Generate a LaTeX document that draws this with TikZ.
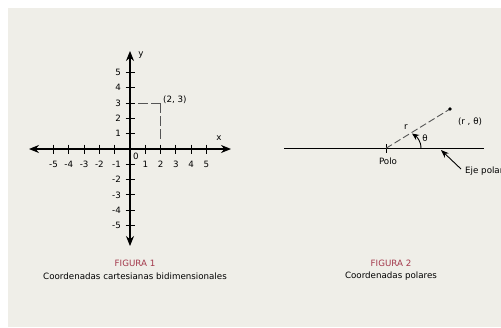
\documentclass[tikz,border=0pt]{standalone}
\usepackage{fontspec}
\setmainfont{DejaVu Sans}
\usetikzlibrary{arrows.meta}
\definecolor{bg}{HTML}{EFEEE8}
\definecolor{capred}{HTML}{A3384B}
\definecolor{dashgray}{HTML}{555555}
\tikzset{
  axisline/.style={line width=1.1pt, black},
  tickline/.style={line width=0.9pt, black},
  dashln/.style={line width=1pt, dashgray, dash pattern=on 10pt off 3pt},
  poldash/.style={line width=0.9pt, dashgray, dash pattern=on 7pt off 3pt},
  lbl/.style={inner sep=0pt, font=\fontsize{8.7}{10}\selectfont},
  captitle/.style={inner sep=0pt, text=capred, font=\fontsize{8.7}{10}\selectfont},
  captext/.style={inner sep=0pt, font=\fontsize{8.7}{10}\selectfont},
}
\begin{document}
\begin{tikzpicture}[x=1pt,y=-1pt]
\useasboundingbox (0,0) rectangle (501,327);
\fill[white] (0,0) rectangle (501,327);
\fill[bg] (8,8) rectangle (501,327);
% ---------- Figure 1 ----------
\coordinate (O) at (130,149);
\coordinate (xl) at (29,149);
\coordinate (xr) at (231,149);
\coordinate (yt) at (130,51);
\coordinate (yb) at (130,246);
\draw[axisline, {Stealth[length=10pt,width=8pt]}-{Stealth[length=10pt,width=8pt]}] (xl) -- (xr);
\draw[axisline, {Stealth[length=10pt,width=8pt]}-{Stealth[length=10pt,width=8pt]}] (yt) -- (yb);
\foreach \i in {-5,-4,-3,-2,-1,1,2,3,4,5}{
  \draw[tickline] (130+\i*15.3,144.5) -- (130+\i*15.3,153.5);
  \draw[tickline] (125.5,149-\i*15.3) -- (134.5,149-\i*15.3);
}
\foreach \i in {-5,-4,-3,-2,1,2,3,4,5}{
  \node[lbl] (xn\i) at (130+\i*15.3,164) {\i};
}
\foreach \i in {-5,-4,-3,-2,-1,1,2,3,4,5}{
  \node[lbl, anchor=east] (yn\i) at (121,149-\i*15.3) {\i};
}
\node[lbl] (zero) at (136,156) {0};
\node[lbl] (xlab) at (219,138) {x};
\node[lbl] (ylab) at (141,55) {y};
\coordinate (P) at (160.6,103.1);
\coordinate (Ph) at (136,103.1);
\coordinate (Pv) at (160.6,141);
\draw[dashln] (P) -- (Ph);
\draw[dashln] (P) -- (Pv);
\node[lbl, anchor=west] (plab) at (163,100) {(2, 3)};
\node[captitle] (fig1) at (135,263) {FIGURA 1};
\node[captext] (cap1) at (135,276) {Coordenadas cartesianas bidimensionales};
% ---------- Figure 2 ----------
\coordinate (pole) at (386,148.3);
\coordinate (axl) at (284,148.3);
\coordinate (axr) at (484,148.3);
\draw[line width=1pt] (axl) -- (axr);
\draw[tickline] (386,144) -- (386,152.5);
\coordinate (Q) at (450,109);
\draw[poldash] (pole) -- (Q);
\fill (Q) circle (1.8pt);
\coordinate (arcstart) at (421,148.3);
\coordinate (arcend) at (412,133.5);
\draw[line width=0.9pt, -{Stealth[length=7pt,width=6pt]}] (arcstart) .. controls (421,141) and (417,137) .. (arcend);
\node[lbl] (th) at (425,138) {θ};
\node[lbl] (rl) at (406,127) {r};
\node[lbl] (ql) at (470,122) {(r , θ)};
\node[lbl] (polo) at (388,161) {Polo};
\node[lbl, anchor=west] (eje) at (465,171) {Eje polar};
\coordinate (ejetail) at (461,169);
\coordinate (ejetip) at (441,150);
\draw[line width=0.9pt, -{Stealth[length=8pt,width=6pt]}] (ejetail) -- (ejetip);
\node[captitle] (fig2) at (391,263) {FIGURA 2};
\node[captext] (cap2) at (391,276) {Coordenadas polares};
\end{tikzpicture}
\end{document}
